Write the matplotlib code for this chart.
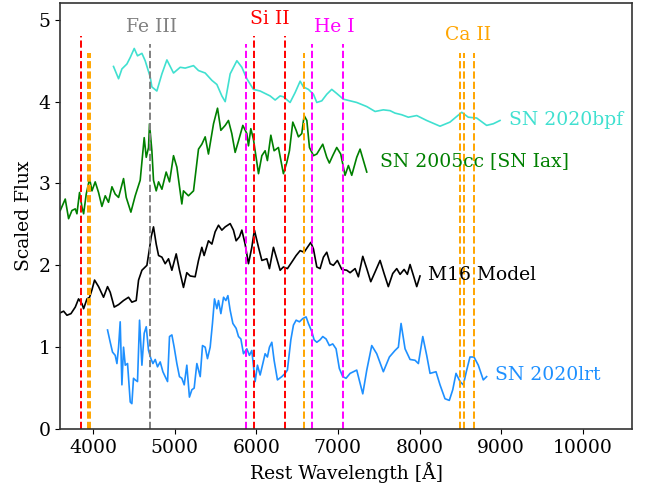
#!/usr/bin/env python3
"""Scaled spectra of SN 2020lrt and comparison objects with line markers."""

import matplotlib.pyplot as plt

# SN 2020bpf
bpf_wave = [4252, 4314, 4355, 4416, 4457, 4506, 4546, 4600, 4640, 4702, 4722, 4783, 4845,
            4906, 4987, 5069, 5130, 5232, 5293, 5375, 5457, 5518, 5579, 5620, 5681, 5763,
            5824, 5885, 5966, 6048, 6170, 6232, 6293, 6333, 6415, 6476, 6538, 6578, 6639,
            6701, 6742, 6803, 6864, 6925, 6986, 7068, 7150, 7231, 7354, 7456, 7557, 7639,
            7700, 7782, 7863, 7966, 8088, 8251, 8373, 8517, 8597, 8700, 8822, 8904, 8986]
bpf_flux = [4.43, 4.28, 4.40, 4.46, 4.54, 4.65, 4.56, 4.59, 4.50, 4.30, 4.18, 4.13, 4.34,
            4.51, 4.35, 4.42, 4.41, 4.44, 4.38, 4.35, 4.26, 4.21, 4.07, 4.00, 4.34, 4.50,
            4.42, 4.28, 4.15, 4.13, 4.07, 4.02, 4.07, 4.06, 3.99, 4.11, 4.25, 4.18, 4.15,
            4.09, 3.99, 4.01, 4.09, 4.15, 4.10, 4.03, 4.01, 3.99, 3.94, 3.88, 3.90, 3.89,
            3.86, 3.84, 3.81, 3.83, 3.77, 3.70, 3.75, 3.87, 3.81, 3.80, 3.71, 3.73, 3.77]

# SN 2005cc [SN Iax]
cc_wave = [3600, 3661, 3702, 3743, 3784, 3804, 3836, 3866, 3886, 3918, 3959, 3988, 4028,
           4069, 4110, 4151, 4191, 4233, 4273, 4314, 4375, 4408, 4465, 4518, 4579, 4628,
           4653, 4681, 4693, 4722, 4742, 4775, 4804, 4845, 4897, 4938, 4987, 5028, 5089,
           5109, 5170, 5232, 5293, 5334, 5375, 5415, 5477, 5526, 5567, 5620, 5660, 5701,
           5742, 5783, 5836, 5885, 5905, 5934, 5966, 6028, 6069, 6109, 6137, 6179, 6219,
           6272, 6333, 6375, 6407, 6448, 6489, 6517, 6558, 6587, 6620, 6652, 6701, 6742,
           6815, 6864, 6896, 6937, 6986, 7035, 7088, 7129, 7170, 7231, 7272, 7313, 7354]
cc_flux = [2.67, 2.81, 2.57, 2.67, 2.69, 2.63, 2.89, 2.71, 2.63, 2.87, 3.06, 2.91, 3.02,
           2.89, 2.72, 2.85, 2.77, 2.96, 2.87, 2.83, 3.06, 2.83, 2.65, 2.85, 3.04, 3.56,
           3.32, 3.44, 3.73, 3.40, 3.04, 2.91, 3.02, 2.93, 3.14, 3.02, 3.34, 3.20, 2.75,
           2.91, 2.85, 2.91, 3.42, 3.48, 3.57, 3.36, 3.73, 3.92, 3.65, 3.71, 3.77, 3.61,
           3.38, 3.52, 3.71, 3.61, 3.46, 3.67, 3.54, 3.12, 3.34, 3.40, 3.28, 3.59, 3.40,
           3.44, 3.12, 3.26, 3.40, 3.75, 3.65, 3.57, 3.61, 3.83, 3.77, 3.44, 3.34, 3.36,
           3.48, 3.32, 3.25, 3.34, 3.44, 3.36, 3.10, 3.22, 3.10, 3.32, 3.42, 3.28, 3.14]

# M16 Model
m16_wave = [3600, 3641, 3682, 3731, 3784, 3824, 3866, 3886, 3927, 3959, 3988, 4020, 4069,
            4130, 4179, 4212, 4261, 4314, 4375, 4436, 4477, 4530, 4559, 4600, 4661, 4689,
            4714, 4742, 4775, 4804, 4845, 4885, 4926, 4967, 5020, 5060, 5109, 5150, 5191,
            5252, 5293, 5334, 5362, 5415, 5457, 5497, 5538, 5579, 5620, 5681, 5721, 5754,
            5795, 5824, 5864, 5905, 5946, 5978, 6028, 6069, 6130, 6162, 6211, 6252, 6293,
            6333, 6382, 6436, 6489, 6538, 6587, 6627, 6668, 6701, 6742, 6782, 6823, 6864,
            6905, 6945, 6994, 7048, 7109, 7150, 7211, 7251, 7305, 7354, 7403, 7456, 7517,
            7566, 7618, 7672, 7721, 7762, 7811, 7851, 7884, 7924, 7966, 8006]
m16_flux = [1.42, 1.44, 1.39, 1.41, 1.49, 1.59, 1.53, 1.47, 1.59, 1.61, 1.70, 1.82, 1.74,
            1.61, 1.74, 1.67, 1.49, 1.52, 1.57, 1.61, 1.55, 1.57, 1.82, 1.94, 2.00, 2.18,
            2.35, 2.47, 2.26, 2.12, 2.10, 2.02, 2.08, 1.94, 2.14, 1.94, 1.73, 1.91, 1.87,
            1.86, 2.06, 2.22, 2.12, 2.30, 2.26, 2.41, 2.49, 2.43, 2.47, 2.51, 2.43, 2.30,
            2.35, 2.43, 2.26, 2.02, 2.22, 2.43, 2.22, 2.06, 2.08, 1.96, 2.22, 2.08, 1.94,
            1.98, 1.96, 2.04, 2.12, 2.18, 2.16, 2.22, 2.28, 2.20, 1.98, 1.96, 2.10, 2.16,
            2.02, 2.00, 2.06, 1.95, 1.94, 1.91, 1.96, 1.86, 2.11, 1.96, 1.80, 1.92, 2.06,
            1.90, 1.74, 1.90, 1.96, 1.89, 1.95, 1.89, 2.01, 1.88, 1.74, 1.87]

# SN 2020lrt
lrt_wave = [4179, 4212, 4240, 4273, 4294, 4314, 4334, 4355, 4375, 4396, 4424, 4457, 4477,
            4497, 4518, 4546, 4571, 4600, 4628, 4653, 4681, 4710, 4735, 4763, 4791, 4824,
            4857, 4885, 4914, 4938, 4967, 4995, 5028, 5060, 5089, 5118, 5150, 5182, 5212,
            5240, 5273, 5314, 5342, 5375, 5403, 5436, 5464, 5489, 5518, 5538, 5567, 5600,
            5628, 5653, 5681, 5714, 5754, 5783, 5812, 5844, 5885, 5917, 5946, 5987, 6015,
            6048, 6081, 6109, 6137, 6162, 6191, 6219, 6260, 6313, 6354, 6382, 6424, 6456,
            6489, 6529, 6571, 6611, 6639, 6681, 6709, 6742, 6782, 6815, 6856, 6896, 6937,
            6978, 7018, 7060, 7100, 7150, 7231, 7305, 7354, 7415, 7476, 7557, 7631, 7700,
            7741, 7774, 7823, 7884, 7945, 7986, 8040, 8088, 8129, 8202, 8251, 8312, 8365,
            8407, 8447, 8496, 8536, 8578, 8618, 8667, 8720, 8781, 8822]
lrt_flux = [1.21, 1.06, 0.94, 0.90, 0.80, 1.00, 1.31, 0.54, 1.00, 0.78, 0.80, 0.33, 0.31,
            0.62, 0.60, 0.58, 1.33, 0.78, 1.17, 1.25, 0.96, 0.86, 0.80, 0.85, 0.76, 0.82,
            0.70, 0.64, 0.58, 1.13, 1.15, 1.00, 0.80, 0.64, 0.62, 0.54, 0.78, 0.39, 0.48,
            0.50, 0.80, 0.64, 1.02, 1.00, 0.86, 1.00, 1.29, 1.59, 1.47, 1.57, 1.41, 1.61,
            1.57, 1.63, 1.45, 1.29, 1.23, 1.13, 1.10, 0.92, 0.98, 0.90, 0.96, 0.58, 0.78,
            0.66, 0.80, 0.92, 0.88, 1.00, 1.06, 0.84, 0.60, 0.64, 0.68, 0.72, 1.09, 1.27,
            1.33, 1.31, 1.35, 1.37, 1.29, 1.19, 1.09, 1.06, 1.09, 1.13, 1.10, 1.02, 1.04,
            0.98, 0.74, 0.64, 0.62, 0.68, 0.72, 0.43, 0.72, 1.02, 0.92, 0.70, 0.88, 0.96,
            1.00, 1.29, 0.98, 0.85, 0.84, 0.80, 1.13, 0.90, 0.68, 0.70, 0.54, 0.37, 0.35,
            0.48, 0.68, 0.58, 0.54, 0.72, 0.88, 0.88, 0.78, 0.60, 0.64]

# line rest wavelengths [A]
si_lines = [3858, 5972, 6355]
ca_lines = [3934, 3968, 6580, 8498, 8542, 8662]
he_lines = [5876, 6678, 7065]
fe_lines = [4700]

spectra = [
    ("SN 2020bpf", bpf_wave, bpf_flux, "turquoise", 9100, 3.78),
    ("SN 2005cc [SN Iax]", cc_wave, cc_flux, "green", 7510, 3.28),
    ("M16 Model", m16_wave, m16_flux, "black", 8100, 1.88),
    ("SN 2020lrt", lrt_wave, lrt_flux, "#1e90ff", 8930, 0.66),
]

plt.rcParams["font.family"] = ["DejaVu Serif"]
plt.rcParams["font.size"] = 13.5

fig, ax = plt.subplots(figsize=(6.48, 4.92), dpi=100)
fig.subplots_adjust(left=0.093, right=0.975, top=0.993, bottom=0.128)

for name, wave, flux, color, lx, ly in spectra:
    ax.plot(wave, flux, color=color, lw=1.2)
    ax.text(lx, ly, name, color=color, ha="left", va="center", fontsize=13.5)

markers = [
    (si_lines, 4.8, "red", "Si II", 6163),
    (fe_lines, 4.7, "gray", "Fe III", 4720),
    (he_lines, 4.7, "magenta", "He I", 6960),
    (ca_lines, 4.6, "orange", "Ca II", 8600),
]
for lines, top, color, label, tx in markers:
    for w in lines:
        ax.plot([w, w], [0, top], color=color, ls="--", lw=1.4)
    ax.text(tx, top + 0.1, label, color=color, ha="center", va="bottom", fontsize=13.5)

ax.set_xlim(3600, 10600)
ax.set_ylim(0, 5.2)
ax.set_xticks([4000, 5000, 6000, 7000, 8000, 9000, 10000])
ax.set_yticks([0, 1, 2, 3, 4, 5])
ax.set_xlabel("Rest Wavelength [Å]")
ax.set_ylabel("Scaled Flux")
for spine in ax.spines.values():
    spine.set_color("#333333")
    spine.set_linewidth(1.2)

fig.savefig("out.png", dpi=100)
